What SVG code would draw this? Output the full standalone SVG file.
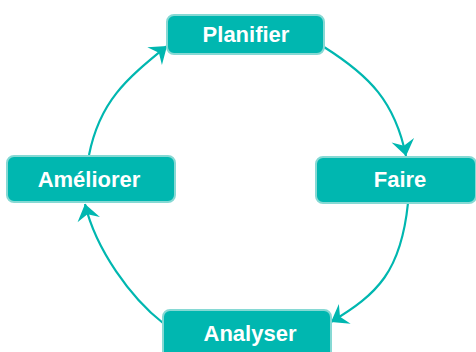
<svg xmlns="http://www.w3.org/2000/svg" width="476" height="352" viewBox="0 0 476 352">
<style>
.box{fill:#00b7b0;stroke:#86d9d4;stroke-width:2}
.lbl{font-family:"Liberation Sans",Arial,sans-serif;font-weight:bold;font-size:22px;fill:#ffffff;text-anchor:middle}
.edge{fill:none;stroke:#00b7b0;stroke-width:2.2}
</style>
<defs>
<marker id="arr" markerUnits="userSpaceOnUse" markerWidth="24" markerHeight="26" refX="18" refY="12" orient="auto" viewBox="0 0 24 24" overflow="visible">
<path d="M18,12 L2,0.5 L7.5,12 L2,23.5 Z" fill="#00b7b0"/>
</marker>
</defs>
<rect width="476" height="352" fill="#ffffff"/>
<g id="connectors">
<path class="edge" d="M324,47 C370,76 395,102 406,156" marker-end="url(#arr)"/>
<path class="edge" d="M408,203 C401,271 378,294 331,322" marker-end="url(#arr)"/>
<path class="edge" d="M163,323 C131,298 96,250 85,204" marker-end="url(#arr)"/>
<path class="edge" d="M89,155 C100,100 128,78 167,46" marker-end="url(#arr)"/>
</g>
<g id="planifier">
<rect class="box" x="167" y="15" width="157" height="39" rx="7"/>
<text class="lbl" x="246" y="42">Planifier</text>
</g>
<g id="faire">
<rect class="box" x="316" y="157" width="160" height="46" rx="7"/>
<text class="lbl" x="400" y="187">Faire</text>
</g>
<g id="analyser">
<rect class="box" x="163" y="310" width="168" height="50" rx="7"/>
<text class="lbl" x="250" y="341">Analyser</text>
</g>
<g id="ameliorer">
<rect class="box" x="7" y="156" width="168" height="46" rx="7"/>
<text class="lbl" x="89" y="187">Améliorer</text>
</g>
</svg>
